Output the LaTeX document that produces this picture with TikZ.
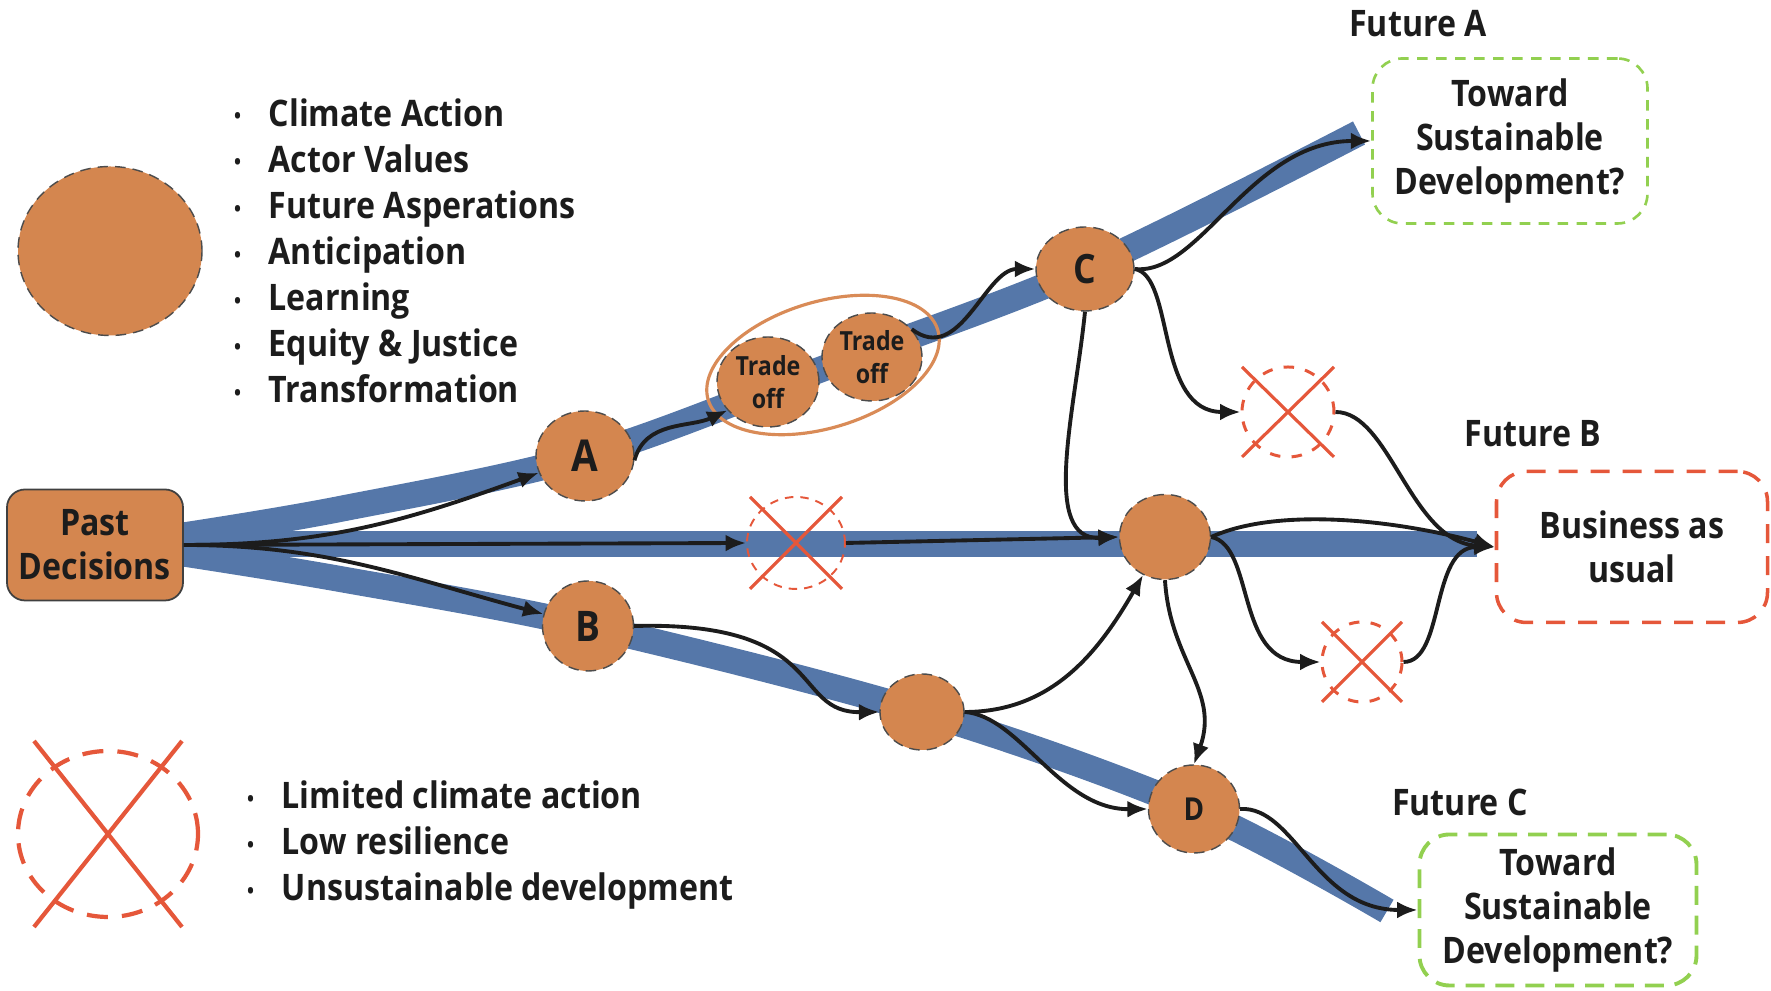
\documentclass[tikz,border=0pt]{standalone}
\usepackage{fontspec}
\setmainfont{Open Sans}[FakeStretch=0.88]
\usepackage{tikz}
\usetikzlibrary{shapes.geometric,arrows.meta}

\definecolor{nodeorange}{HTML}{D4864F}
\definecolor{ringorange}{HTML}{D98B57}
\definecolor{pathblue}{HTML}{5577A9}
\definecolor{stopred}{HTML}{E5573A}
\definecolor{goalgreen}{HTML}{92D050}
\definecolor{inkdark}{HTML}{1C1C1C}

\newcommand{\listdot}{\makebox[0.31cm][l]{\makebox[0pt]{\raisebox{0.8pt}{\fontsize{6}{6}\selectfont\textbullet}}}}

\begin{document}
\begin{tikzpicture}[every node/.style={font=\fontsize{10.4}{12.6}\selectfont\bfseries, text=inkdark, align=center},
    stage/.style={ellipse, draw=black!70, densely dashed, line width=0.4pt, fill=nodeorange, inner sep=0pt},
    band/.style={draw=pathblue, line width=0.26cm},
    flow/.style={draw=inkdark, line width=1.1pt, -{Latex[length=5.8pt, width=4.8pt]}},
    stopmark/.style={ellipse, draw=stopred, inner sep=0pt},
    xline/.style={draw=stopred, line width=0.9pt},
    future/.style={rectangle, rounded corners=0.3cm, line width=0.9pt}]
    \useasboundingbox (0,0) rectangle (17.71,9.91);

    % the three routes
    \draw[band] plot[smooth, tension=0.55] coordinates {(1.80,4.55) (3.40,4.82) (5.85,5.35) (8.30,6.25) (10.85,7.22) (13.59,8.58)};
    \draw[band] (1.80,4.47) -- (14.77,4.47);
    \draw[band] plot[smooth, tension=0.55] coordinates {(1.80,4.38) (3.40,4.12) (5.88,3.65) (9.22,2.79) (11.94,1.82) (13.87,0.80)};

    % legend
    \node[stage, minimum width=1.84cm, minimum height=1.69cm] (lgd) at (1.10,7.40) {};
    \node[anchor=base west, align=left, inner sep=0pt, font=\fontsize{10.4}{13.1}\selectfont\bfseries] (actlist) at (2.37,5.88)
        {\listdot Climate Action\\\listdot Actor Values\\\listdot Future Asperations\\\listdot Anticipation\\\listdot Learning\\\listdot Equity \& Justice\\\listdot Transformation};
    \node[stopmark, minimum width=1.80cm, minimum height=1.66cm, line width=1.2pt, dash pattern=on 6pt off 4pt] (xleg) at (1.08,1.57) {};
    \draw[xline, line width=1.2pt] (xleg.center) ++(-0.74,0.93) -- ++(1.48,-1.86);
    \draw[xline, line width=1.2pt] (xleg.center) ++(0.74,0.93) -- ++(-1.48,-1.86);
    \node[anchor=base west, align=left, inner sep=0pt, font=\fontsize{10.4}{13.1}\selectfont\bfseries] (risklist) at (2.50,0.90)
        {\listdot Limited climate action\\\listdot Low resilience\\\listdot Unsustainable development};

    % stages
    \node[draw=black!75, fill=nodeorange, rounded corners=0.18cm, line width=0.5pt, minimum width=1.76cm, minimum height=1.11cm] (pd) at (0.95,4.46) {Past\\Decisions};
    \node[stage, minimum width=0.98cm, minimum height=0.90cm, font=\fontsize{12.5}{12}\selectfont\bfseries] (a) at (5.85,5.35) {A};
    \node[stage, minimum width=0.91cm, minimum height=0.90cm, font=\fontsize{12}{12}\selectfont\bfseries] (b) at (5.88,3.65) {B};
    \node[ellipse, draw=ringorange, line width=0.9pt, minimum width=2.40cm, minimum height=1.26cm, rotate=17] (tradering) at (8.23,6.26) {};
    \node[stage, minimum width=1.02cm, minimum height=0.90cm, font=\fontsize{7.5}{9.4}\selectfont\bfseries] (to1) at (7.68,6.09) {Trade\\off};
    \node[stage, minimum width=1.00cm, minimum height=0.88cm, font=\fontsize{7.5}{9.4}\selectfont\bfseries] (to2) at (8.72,6.34) {Trade\\off};
    \node[stage, minimum width=0.98cm, minimum height=0.84cm, font=\fontsize{11.5}{12}\selectfont\bfseries] (c) at (10.85,7.22) {C};
    \node[stage, minimum width=0.91cm, minimum height=0.85cm] (m) at (11.65,4.54) {};
    \node[stage, minimum width=0.84cm, minimum height=0.76cm] (l) at (9.22,2.79) {};
    \node[stage, minimum width=0.91cm, minimum height=0.88cm, font=\fontsize{9}{10}\selectfont\bfseries] (d) at (11.94,1.82) {D};

    % dead ends
    \node[stopmark, minimum width=0.98cm, minimum height=0.92cm, line width=0.55pt, dash pattern=on 2.4pt off 2pt] (x1) at (7.96,4.48) {};
    \draw[xline] (x1.center) ++(-0.46,0.46) -- ++(0.92,-0.92);
    \draw[xline] (x1.center) ++(0.46,0.46) -- ++(-0.92,-0.92);
    \node[stopmark, minimum width=0.92cm, minimum height=0.90cm, line width=0.85pt, dash pattern=on 3pt off 3.2pt] (x2) at (12.88,5.79) {};
    \draw[xline] (x2.center) ++(-0.46,0.45) -- ++(0.92,-0.90);
    \draw[xline] (x2.center) ++(0.46,0.45) -- ++(-0.92,-0.90);
    \node[stopmark, minimum width=0.80cm, minimum height=0.80cm, line width=0.85pt, dash pattern=on 3pt off 3.2pt] (x3) at (13.62,3.29) {};
    \draw[xline] (x3.center) ++(-0.40,0.40) -- ++(0.80,-0.80);
    \draw[xline] (x3.center) ++(0.40,0.40) -- ++(-0.80,-0.80);

    % futures
    \node[future, draw=goalgreen, line width=0.75pt, dash pattern=on 3pt off 2.4pt, minimum width=2.75cm, minimum height=1.65cm] (fa) at (15.10,8.50) {Toward\\Sustainable\\Development?};
    \node[future, draw=stopred, line width=1pt, dash pattern=on 5.4pt off 3.7pt, minimum width=2.71cm, minimum height=1.51cm] (fb) at (16.32,4.44) {Business as\\usual};
    \node[future, draw=goalgreen, line width=1.1pt, dash pattern=on 5.4pt off 3.1pt, minimum width=2.77cm, minimum height=1.51cm] (fc) at (15.58,0.81) {Toward\\Sustainable\\Development?};
    \node (fal) at (14.18,9.67) {Future A};
    \node (fbl) at (15.33,5.57) {Future B};
    \node (fcl) at (14.60,1.89) {Future C};

    % choices
    \draw[flow] (pd.east) to[out=0, in=200] (a.200);
    \draw[flow] (pd.east) -- (x1.west);
    \draw[flow] (pd.east) to[out=0, in=165] (b.165);
    \draw[flow] (a.-5) to[out=75, in=205] (to1.215);
    \draw[flow] (to2.35) .. controls (9.60,6.25) and (9.85,7.22) .. (c.west);
    \draw[flow] (c.east) .. controls (12.00,7.15) and (12.50,8.50) .. (fa.west);
    \draw[flow] (c.east) .. controls (11.75,7.15) and (11.55,5.79) .. (x2.west);
    \draw[flow] (c.south) .. controls (10.75,5.80) and (10.40,4.50) .. (m.west);
    \draw[flow] (x1.east) -- (m.west);
    \draw[flow] (m.east) .. controls (12.80,4.85) and (14.00,4.70) .. (fb.west);
    \draw[flow] (m.east) .. controls (12.55,4.45) and (12.35,3.29) .. (x3.west);
    \draw[flow] (x2.east) .. controls (13.90,5.79) and (14.10,4.50) .. (fb.west);
    \draw[flow] (x3.east) .. controls (14.45,3.29) and (14.30,4.44) .. (fb.west);
    \draw[flow] (m.south) .. controls (11.70,3.30) and (12.20,3.00) .. (d.north);
    \draw[flow] (b.east) .. controls (8.30,3.70) and (7.90,2.78) .. (l.west);
    \draw[flow] (l.east) to[out=0, in=240] (m.240);
    \draw[flow] (l.east) .. controls (10.20,2.75) and (10.60,1.81) .. (d.west);
    \draw[flow] (d.east) .. controls (12.95,1.85) and (13.15,0.81) .. (fc.west);
\end{tikzpicture}
\end{document}
